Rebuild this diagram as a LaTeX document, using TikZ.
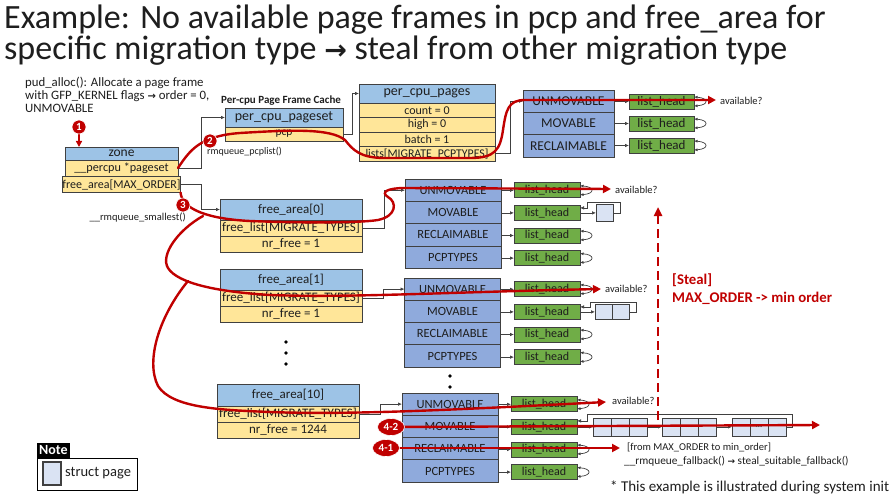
\documentclass[tikz,border=0pt]{standalone}
\usepackage{fontspec}
\setmainfont{Carlito}
\newfontfamily\symfont{DejaVu Sans}
\usetikzlibrary{arrows.meta,shapes.geometric}
\definecolor{hblue}{HTML}{9DC3E6}
\definecolor{ryel}{HTML}{FFE699}
\definecolor{mblue}{HTML}{8FAADC}
\definecolor{lgreen}{HTML}{70AD47}
\definecolor{pgfillc}{HTML}{DAE3F3}
\definecolor{redc}{HTML}{C00000}
\definecolor{bord}{HTML}{404040}
\definecolor{txtc}{HTML}{1E1E1E}
\newcommand{\fsz}[1]{\fontsize{#1}{#1}\selectfont}
\begin{document}
\begin{tikzpicture}[x=1pt,y=-1pt,
 box/.style={draw=bord, line width=0.8pt, inner sep=0pt, outer sep=0pt, text=txtc},
 hdr/.style={box, fill=hblue},
 yrow/.style={box, fill=ryel},
 mig/.style={box, fill=mblue, minimum width=96, minimum height=22.3, font=\fsz{12.5}},
 lhead/.style={box, fill=lgreen, minimum width=66, minimum height=15, font=\fsz{12}},
 pgcell/.style={box, fill=pgfillc, line width=0.7pt},
 conn/.style={draw=bord, line width=0.7pt, -{Latex[length=4pt,width=3.5pt]}},
 loopc/.style={draw=bord, line width=0.7pt, {Latex[length=3.5pt,width=3pt]}-{Latex[length=3.5pt,width=3pt]}},
 redp/.style={draw=redc, line width=2.4pt, line cap=round},
 redarr/.style={redp, -{Triangle[length=8pt,width=8pt]}},
 badge/.style={circle, fill=redc, draw=white, line width=0.6pt, text=white, font=\bfseries\fsz{11}, inner sep=0pt, minimum size=14},
 ebadge/.style={ellipse, fill=redc, draw=white, line width=0.6pt, text=white, font=\bfseries\fsz{11}, inner sep=0pt, minimum width=27, minimum height=17},
 lbl/.style={anchor=west, inner sep=0pt, text=txtc},
]
\useasboundingbox[fill=white] (0,0) rectangle (889,500);

% ---- title
\node[lbl, font=\fsz{34}] (t1) at (4,20) {Example: No available page frames in pcp and free\_area for};
\node[lbl, font=\fsz{34}] (t2) at (4,51) {specific migration type {\symfont\bfseries\fsz{27}→} steal from other migration type};

% ---- intro text
\node[anchor=north west, align=left, inner sep=0pt, text=txtc, font=\fontsize{12.8}{12.8}\selectfont] (intro) at (25,77)
 {pud\_alloc(): Allocate a page frame\\with GFP\_KERNEL flags {\symfont\bfseries\fsz{10}→} order = 0,\\UNMOVABLE};

% ---- zone
\node[hdr, minimum width=113, minimum height=13, font=\fsz{13.5}] (zh) at (121.5,153.5) {zone};
\node[yrow, minimum width=113, minimum height=16, font=\fsz{12.2}] (zp) at (121.5,168) {\_\_percpu *pageset};
\node[yrow, minimum width=113, minimum height=16, font=\fsz{12}] (zf) at (121.5,184.5) {free\_area[MAX\_ORDER]};

% ---- per-cpu pageset
\node[lbl, font=\bfseries\fsz{11}] (pcct) at (221,101) {Per-cpu Page Frame Cache};
\node[hdr, minimum width=118, minimum height=19, font=\fsz{14}] (psh) at (284,117.5) {per\_cpu\_pageset};
\node[yrow, minimum width=118, minimum height=14, font=\fsz{11.5}] (psp) at (284,134) {pcp};
\node[lbl, font=\fsz{10}] (rmpcp) at (207,152) {rmqueue\_pcplist()};

% ---- per_cpu_pages
\node[hdr, minimum width=136, minimum height=19, font=\fsz{14}] (cph) at (427,93.5) {per\_cpu\_pages};
\node[yrow, minimum width=136, minimum height=14.5, font=\fsz{12}] (cpc) at (427,110.25) {count = 0};
\node[yrow, minimum width=136, minimum height=14.5, font=\fsz{12}] (cphi) at (427,124.75) {high = 0};
\node[yrow, minimum width=136, minimum height=14.5, font=\fsz{12}] (cpb) at (427,139.25) {batch = 1};
\node[yrow, minimum width=136, minimum height=14.5, font=\fsz{11.8}] (cpl) at (427,153.75) {lists[MIGRATE\_PCPTYPES]};

% ---- top migrate lists
\foreach \nm/\lb [count=\i from 0] in {u/UNMOVABLE,m/MOVABLE,r/RECLAIMABLE}{
  \node[mig, minimum width=91, font=\fsz{13.5}] (t\nm) at (568.5,{101.2+22.3*\i}) {\lb};
  \node[lhead, minimum width=65, font=\fsz{13}] (lt\nm) at (661.5,{101.5+22*\i}) {list\_head};
  \draw[conn] (t\nm.east |- lt\nm) -- (lt\nm.west);
  \draw[loopc] ([yshift=4.5]lt\nm.east) .. controls +(15,1) and +(15,-1) .. ([yshift=-4.5]lt\nm.east);
}
\node[lbl, font=\fsz{10.5}] (avt) at (720,101) {available?};

% ---- free_area boxes
\node[hdr, minimum width=142, minimum height=21, font=\fsz{13}] (f0h) at (291,209.5) {free\_area[0]};
\node[yrow, minimum width=142, minimum height=16, font=\fsz{13}] (f0l) at (291,228) {free\_list[MIGRATE\_TYPES]};
\node[yrow, minimum width=142, minimum height=16, font=\fsz{13}] (f0n) at (291,244) {nr\_free = 1};

\node[hdr, minimum width=142, minimum height=21, font=\fsz{13}] (f1h) at (291,279.5) {free\_area[1]};
\node[yrow, minimum width=142, minimum height=16, font=\fsz{13}] (f1l) at (291,298) {free\_list[MIGRATE\_TYPES]};
\node[yrow, minimum width=142, minimum height=16, font=\fsz{13}] (f1n) at (291,314) {nr\_free = 1};

\node[hdr, minimum width=142, minimum height=22, font=\fsz{13}] (f10h) at (288,395) {free\_area[10]};
\node[yrow, minimum width=142, minimum height=16, font=\fsz{13}] (f10l) at (288,414) {free\_list[MIGRATE\_TYPES]};
\node[yrow, minimum width=142, minimum height=16, font=\fsz{13}] (f10n) at (288,430) {nr\_free = 1244};

\node[anchor=east, inner sep=0pt, text=txtc, font=\fsz{10.5}] (rmsm) at (186,218) {\_\_rmqueue\_smallest()};

% ---- migrate lists per order
\foreach \lv/\mx/\my/\lx/\ly in {0/453/190.2/547/190.3, 1/452.5/289.1/547/289.3, 10/450/404.1/544/404.3}{
  \foreach \nm/\lb [count=\i from 0] in {u/UNMOVABLE,m/MOVABLE,r/RECLAIMABLE,p/PCPTYPES}{
    \node[mig] (a\lv\nm) at (\mx,{\my+22.3*\i}) {\lb};
    \node[lhead] (l\lv\nm) at (\lx,{\ly+22.6*\i}) {list\_head};
    \draw[conn] (a\lv\nm.east |- l\lv\nm) -- (l\lv\nm.west);
  }
  \foreach \nm in {u,r,p}{
    \draw[loopc] ([yshift=4.5]l\lv\nm.east) .. controls +(15,1) and +(15,-1) .. ([yshift=-4.5]l\lv\nm.east);
  }
}

% ---- struct pages
\node[pgcell, minimum width=17, minimum height=17, anchor=west] (pg0) at ([xshift=16]l0m.east) {};
\draw[conn] (l0m.east) -- (pg0.west);
\draw[conn] (pg0.east) -- ++(7,0) |- ([xshift=7,yshift=11]l0m.east) |- ([yshift=5]l0m.east);

\node[pgcell, minimum width=17, minimum height=15, anchor=west] (p1a) at ([xshift=15]l1m.east) {};
\node[pgcell, minimum width=17, minimum height=15, anchor=west] (p1b) at (p1a.east) {};
\draw[conn] (l1m.east) -- (p1a.west);
\draw[conn] (p1b.east) -- ++(7,0) |- ([xshift=10,yshift=10]l1m.east) |- ([yshift=5]l1m.east);

\foreach \q/\sx in {1/593,2/662,3/732}{
  \node[pgcell, minimum width=18, minimum height=18] (q\q a) at ({\sx+9},{404.3+22.6}) {};
  \node[pgcell, minimum width=18, minimum height=18, font=\bfseries\fsz{8}] (q\q b) at ({\sx+27},{404.3+22.6}) {...};
  \node[pgcell, minimum width=18, minimum height=18] (q\q c) at ({\sx+45},{404.3+22.6}) {};
}
\draw[conn] (l10m.east) -- (q1a.west);
\draw[conn] (q1c.east) -- (q2a.west);
\draw[conn] (q2c.east) -- (q3a.west);
\draw[conn] (q3c.east) -- ++(6,0) |- ([xshift=10,yshift=13]l10m.east) |- ([yshift=6]l10m.east);

% ---- black connectors
\draw[conn] (zp.east) -- ++(23,0) |- (psh.west);
\draw[conn] (zf.east) -- ++(21,0) |- (f0h.west);
\draw[conn] (psp.east) -- ++(9,0) |- (cph.west);
\draw[conn] (cpl.east) -- ++(15,0) |- (tu.west);
\draw[conn] (f0l.east) -- ++(22,0) |- (a0u.west);
\draw[conn] (f1l.east) -- ++(21,0) |- (a1u.west);
\draw[conn] (f10l.east) -- ++(21,0) |- (a10u.west);

% ---- dots
\foreach \yy in {342,353,364} \fill[black] (286,\yy) circle (1.8);
\foreach \yy in {376,387} \fill[black] (450,\yy) circle (1.8);

% ---- available labels
\node[lbl, font=\fsz{10.5}] (av0) at (615,190) {available?};
\node[lbl, font=\fsz{10.5}] (av1) at (605,289) {available?};
\node[lbl, font=\fsz{10.5}] (av10) at (612,401) {available?};

% ---- bottom texts
\node[lbl, font=\fsz{10.5}] (fb1) at (627,447) {[from MAX\_ORDER to min\_order]};
\node[lbl, font=\fsz{11.3}] (fb2) at (624,461) {\_\_rmqueue\_fallback() {\symfont\bfseries\fsz{9}→} steal\_suitable\_fallback()};
\node[lbl, font=\fsz{15}] (initn) at (610,487) {* This example is illustrated during system init};

% ---- steal
\coordinate (stb) at (658,420);
\coordinate (stt) at (658,207);
\draw[redc, line width=2.4pt, dash pattern=on 9pt off 5pt, -{Triangle[length=9pt,width=8pt]}] (stb) -- (stt);
\node[anchor=west, inner sep=0pt, text=redc, align=left, font=\bfseries\fontsize{14.8}{18}\selectfont] (steal) at (672,289) {[Steal]\\MAX\_ORDER -> min order};

% ---- note
\node[draw=black, line width=1pt, minimum width=100, minimum height=32, anchor=north west, inner sep=0pt] (noteb) at (37,458) {};
\node[fill=black, text=white, font=\bfseries\fsz{14}, inner sep=2pt, minimum height=15, anchor=south west] (notel) at (37,458) {Note};
\node[pgcell, line width=1.2pt, minimum width=18, minimum height=23] (notep) at (52,473.5) {};
\node[lbl, font=\fsz{14.5}] (notet) at (65,473) {struct page};

% ---- red paths
\draw[redarr] (zp.east) .. controls (190,150) and (200,136) .. (240,133)
   .. controls (290,130) and (330,128) .. (345,140)
   .. controls (353,150) and (360,158) .. (385,158) -- (470,158)
   .. controls (495,158) and (500,150) .. (503,130)
   .. controls (506,110) and (508,100) .. (525,100) -- (716,100);
\draw[redarr] (zf.south east) .. controls (182,210) and (210,219) .. (250,221)
   .. controls (300,223) and (360,223) .. (378,220)
   .. controls (397,216) and (397,202) .. (388,197)
   .. controls (380,192) and (388,188) .. (405,188) -- (611,189);
\draw[redarr] (203,216) .. controls (178,230) and (160,255) .. (168,268)
   .. controls (178,284) and (220,292) .. (270,295)
   .. controls (350,298) and (450,292) .. (601,289);
\draw[redarr] (188,281) .. controls (160,315) and (145,360) .. (158,386)
   .. controls (172,408) and (220,410) .. (270,412)
   .. controls (350,415) and (450,410) .. (606,402);
\draw[redarr] (391,427) -- (820,425);
\draw[redarr] (386,448) -- (620,448);
\draw[redp, -{Triangle[length=6pt,width=6pt]}] (79,132) -- (79,147);

% ---- badges
\node[badge] (b1) at (79,127) {1};
\node[badge] (b2) at (210,141) {2};
\node[badge] (b3) at (183,205) {3};
\node[ebadge] (b42) at (391,427) {4-2};
\node[ebadge] (b41) at (386,448) {4-1};
\end{tikzpicture}
\end{document}
